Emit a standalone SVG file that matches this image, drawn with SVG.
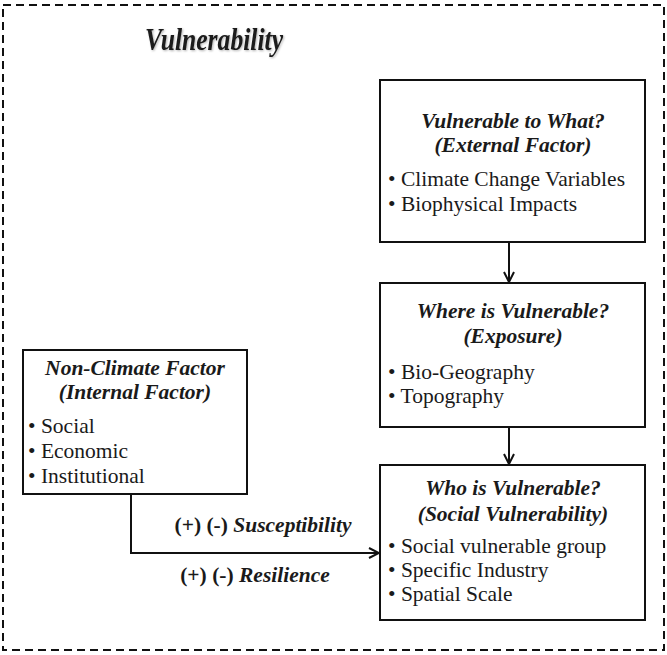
<svg xmlns="http://www.w3.org/2000/svg" width="667" height="655" viewBox="0 0 667 655">
  <style>
    .frame { fill: none; stroke: #111; stroke-width: 2; stroke-dasharray: 8 5; }
    .box { fill: #fff; stroke: #111; stroke-width: 2; }
    .link { fill: none; stroke: #111; stroke-width: 2; }
    text { font-family: "Liberation Serif", "Times New Roman", serif; fill: #1a1a1a; }
    .title { font-size: 32px; font-weight: bold; font-style: italic; }
    .head { font-size: 21.5px; font-weight: bold; font-style: italic; text-anchor: middle; }
    .item { font-size: 21.5px; }
    .label { font-size: 21.5px; font-weight: bold; text-anchor: middle; }
  </style>
  <defs>
    <marker id="arrow" viewBox="0 0 12 12" refX="11" refY="6" markerWidth="12" markerHeight="12" markerUnits="userSpaceOnUse" orient="auto">
      <path d="M1,1 L11,6 L1,11" fill="none" stroke="#111" stroke-width="2"/>
    </marker>
    <filter id="soft" x="-10%" y="-30%" width="120%" height="160%">
      <feDropShadow dx="1" dy="1" stdDeviation="1" flood-color="#000" flood-opacity="0.3"/>
    </filter>
  </defs>
  <rect fill="#fff" width="667" height="655"/>

  <!-- outer dashed frame -->
  <rect class="frame" x="3" y="5" width="661" height="645"/>
  <text class="title" x="145" y="50" textLength="138" lengthAdjust="spacingAndGlyphs" filter="url(#soft)">Vulnerability</text>

  <!-- connectors -->
  <g id="connectors">
    <line class="link" x1="509" y1="242" x2="509" y2="282" marker-end="url(#arrow)"/>
    <line class="link" x1="509" y1="427" x2="509" y2="464" marker-end="url(#arrow)"/>
    <polyline class="link" points="131,494 131,553 379,553" marker-end="url(#arrow)"/>
    <text class="label" x="263" y="532">(+) (-) <tspan font-style="italic">Susceptibility</tspan></text>
    <text class="label" x="255" y="582">(+) (-) <tspan font-style="italic">Resilience</tspan></text>
  </g>

  <g id="external">
    <rect class="box" x="380" y="80" width="265" height="162"/>
    <text class="head" x="513" y="128">Vulnerable to What?</text>
    <text class="head" x="513" y="152">(External Factor)</text>
    <text class="item" x="388" y="186">• Climate Change Variables</text>
    <text class="item" x="388" y="211">• Biophysical Impacts</text>
  </g>

  <g id="exposure">
    <rect class="box" x="380" y="283" width="265" height="144"/>
    <text class="head" x="513" y="318">Where is Vulnerable?</text>
    <text class="head" x="513" y="343">(Exposure)</text>
    <text class="item" x="388" y="379">• Bio-Geography</text>
    <text class="item" x="388" y="403">• Topography</text>
  </g>

  <g id="social">
    <rect class="box" x="380" y="465" width="265" height="155"/>
    <text class="head" x="513" y="495">Who is Vulnerable?</text>
    <text class="head" x="513" y="521">(Social Vulnerability)</text>
    <text class="item" x="388" y="553">• Social vulnerable group</text>
    <text class="item" x="388" y="577">• Specific Industry</text>
    <text class="item" x="388" y="601">• Spatial Scale</text>
  </g>

  <g id="internal">
    <rect class="box" x="23" y="350" width="224" height="144"/>
    <text class="head" x="135" y="375">Non-Climate Factor</text>
    <text class="head" x="135" y="399">(Internal Factor)</text>
    <text class="item" x="28" y="433">• Social</text>
    <text class="item" x="28" y="458">• Economic</text>
    <text class="item" x="28" y="483">• Institutional</text>
  </g>
</svg>
